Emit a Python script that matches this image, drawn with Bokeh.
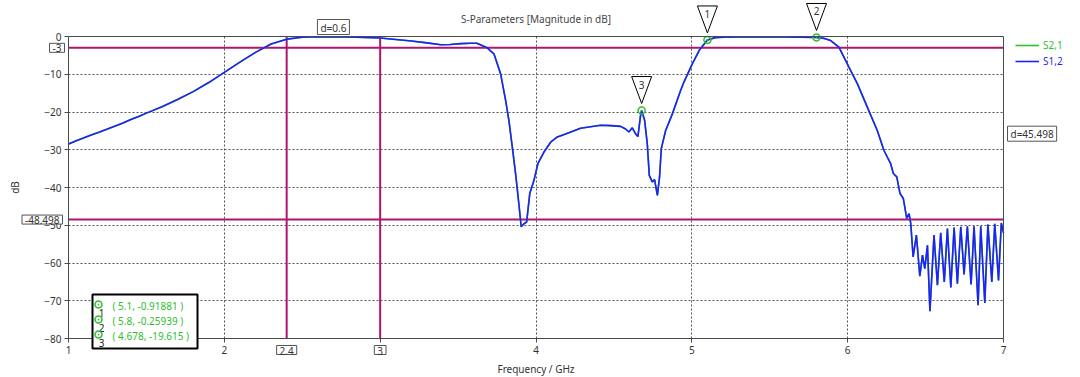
from bokeh.plotting import figure
from bokeh.models import (Label, PolyAnnotation, BoxAnnotation, Legend, LegendItem, FixedTicker,
                          LinearAxis, Grid, Range1d)
from bokeh.embed import file_html
from bokeh.resources import INLINE

# ---------------- data ----------------
freq = [1.0, 1.05, 1.1, 1.15, 1.2, 1.25, 1.3, 1.35, 1.4, 1.45, 1.5, 1.6, 1.7, 1.8, 1.9, 2.0,
        2.1, 2.2, 2.3, 2.4, 2.5, 2.6, 2.8, 3.0, 3.1, 3.2, 3.3, 3.39, 3.45, 3.52, 3.58, 3.62,
        3.687, 3.73, 3.773, 3.805, 3.826, 3.848, 3.869, 3.89, 3.905, 3.923, 3.94, 3.96, 3.987,
        4.012, 4.051, 4.094, 4.137, 4.19, 4.286, 4.35, 4.415, 4.48, 4.543, 4.575, 4.596, 4.618,
        4.639, 4.654, 4.671, 4.678, 4.697, 4.714, 4.727, 4.746, 4.761, 4.779, 4.793, 4.804,
        4.832, 4.875, 4.928, 4.95, 5.0, 5.05, 5.1, 5.15, 5.2, 5.3, 5.4, 5.5, 5.6, 5.7, 5.8,
        5.85, 5.891, 5.944, 6.008, 6.062, 6.126, 6.19, 6.233, 6.276, 6.293, 6.315, 6.336,
        6.357, 6.379, 6.394, 6.405, 6.42, 6.441, 6.463, 6.48, 6.495, 6.512, 6.528, 6.554,
        6.576, 6.597, 6.62, 6.64, 6.662, 6.683, 6.704, 6.726, 6.747, 6.768, 6.792, 6.811,
        6.837, 6.854, 6.88, 6.90, 6.925, 6.944, 6.968, 6.986, 7.0]
s12 = [-28.5, -27.6, -26.8, -26.0, -25.3, -24.5, -23.7, -22.9, -22.0, -21.2, -20.3, -18.6,
       -16.7, -14.6, -12.2, -9.5, -6.8, -4.2, -2.0, -0.7, -0.2, -0.05, -0.15, -0.4, -0.8,
       -1.2, -1.7, -2.2, -2.1, -1.9, -1.8, -1.8, -3.0, -4.6, -9.9, -16.9, -22.2, -29.3,
       -36.3, -44.3, -50.4, -49.6, -49.1, -41.6, -38.1, -33.7, -30.6, -28.0, -26.6, -25.8,
       -24.3, -23.9, -23.5, -23.6, -23.8, -24.5, -25.3, -24.2, -25.8, -26.5, -20.9, -19.6,
       -22.2, -28.4, -36.8, -38.5, -37.9, -42.1, -37.2, -29.7, -24.9, -20.5, -14.3, -12.0,
       -7.5, -3.5, -0.92, -0.3, -0.2, -0.15, -0.1, -0.1, -0.15, -0.2, -0.26, -0.5, -1.06,
       -2.8, -8.1, -12.5, -18.7, -24.9, -30.2, -33.7, -36.3, -37.2, -41.6, -42.9, -48.2,
       -46.9, -49.6, -58.4, -52.6, -63.5, -57.9, -61.5, -55.3, -72.8, -52.6, -65.9, -52.0,
       -65.0, -50.9, -66.5, -50.6, -65.5, -50.4, -63.0, -50.3, -65.7, -50.3, -71.2, -50.3,
       -70.6, -49.8, -65.0, -49.6, -64.6, -49.4, -52.0]
s21 = list(s12)

x_ticks = [1, 2, 3, 4, 5, 6, 7]
y_ticks = [0, -10, -20, -30, -40, -50, -60, -70, -80]

marker_ids = ["1", "2", "3"]
marker_f = [5.1, 5.8, 4.678]
marker_db = [-0.91881, -0.25939, -19.615]

vline_f = [2.4, 3.0]
hline_db = [-3.0, -48.498]

# ---------------- layout helpers (pixel <-> data for the plot box) ----------------
W, H = 1080, 377
X0PX, X1PX, Y0PX, Y1PX = 68, 1003, 36, 338
XMIN, XMAX, YMIN, YMAX = x_ticks[0], x_ticks[-1], y_ticks[-1], y_ticks[0]
XS = (X1PX - X0PX) / (XMAX - XMIN)
YS = (Y1PX - Y0PX) / (YMAX - YMIN)


def xd(px):
    return XMIN + (px - X0PX) / XS


def yd(py):
    return YMAX - (py - Y0PX) / YS


FONT = "Noto Sans"
BLUE = "#1f1fff"
GREEN = "#2ec02e"
MAG = "#b0156e"
TXT = "#333333"
AX = "#4a4a4a"

p = figure(width=W, height=H, x_range=Range1d(xd(0), xd(W)), y_range=Range1d(yd(H), yd(0)),
           output_backend="svg", toolbar_location=None,
           x_axis_location=None, y_axis_location=None,
           min_border=0, min_border_left=0, min_border_right=0, min_border_top=0,
           min_border_bottom=0)
p.background_fill_color = "white"
p.outline_line_color = None
p.xgrid.visible = False
p.ygrid.visible = False


def style_axis(ax):
    ax.axis_line_color = AX
    ax.major_tick_line_color = AX
    ax.major_tick_out = 4
    ax.major_tick_in = 0
    ax.minor_tick_line_color = None
    ax.major_label_text_font = FONT
    ax.major_label_text_font_size = "10px"
    ax.major_label_text_color = TXT
    ax.axis_label_text_font = FONT
    ax.axis_label_text_font_size = "10px"
    ax.axis_label_text_font_style = "normal"
    ax.axis_label_text_color = TXT
    ax.major_label_standoff = 3


xaxis = LinearAxis(fixed_location=YMIN, bounds=(XMIN, XMAX), ticker=FixedTicker(ticks=x_ticks),
                   axis_label="Frequency / GHz")
style_axis(xaxis)
xaxis.axis_label_standoff = 5
p.add_layout(xaxis, "below")

yaxis = LinearAxis(fixed_location=XMIN, bounds=(YMIN, YMAX), ticker=FixedTicker(ticks=y_ticks),
                   axis_label="dB")
style_axis(yaxis)
yaxis.axis_label_standoff = 19
p.add_layout(yaxis, "left")

# frame top / right edges
top = LinearAxis(fixed_location=YMAX, bounds=(XMIN, XMAX), ticker=FixedTicker(ticks=[]))
top.axis_line_color = AX
top.minor_tick_line_color = None
p.add_layout(top, "above")
right = LinearAxis(fixed_location=XMAX, bounds=(YMIN, YMAX), ticker=FixedTicker(ticks=[]))
right.axis_line_color = AX
right.minor_tick_line_color = None
p.add_layout(right, "right")

# dotted grid, limited to the plot box
has_cb = "cross_bounds" in Grid.properties()
for dim, ticks, cb in ((0, x_ticks[1:-1], (YMIN, YMAX)), (1, y_ticks[1:-1], (XMIN, XMAX))):
    kw = dict(dimension=dim, ticker=FixedTicker(ticks=ticks), grid_line_color="#555555",
              grid_line_dash="2 2", grid_line_width=1)
    if has_cb:
        kw["cross_bounds"] = cb
        p.add_layout(Grid(**kw))
if not has_cb:
    gx = x_ticks[1:-1]
    gy = y_ticks[1:-1]
    p.segment(x0=gx, y0=[YMIN] * len(gx), x1=gx, y1=[YMAX] * len(gx), line_color="#555555",
              line_dash="2 2", line_width=1)
    p.segment(x0=[XMIN] * len(gy), y0=gy, x1=[XMAX] * len(gy), y1=gy, line_color="#555555",
              line_dash="2 2", line_width=1)

# marker lines
p.segment(x0=vline_f, y0=[YMIN] * 2, x1=vline_f, y1=[YMAX] * 2, line_color=MAG, line_width=2)
p.segment(x0=[XMIN] * 2, y0=hline_db, x1=[XMAX] * 2, y1=hline_db, line_color=MAG, line_width=2)

r21 = p.line(freq, s21, line_color=GREEN, line_width=1.6)
r12 = p.line(freq, s12, line_color=BLUE, line_width=1.6)

p.scatter(marker_f, marker_db, marker="circle_dot", size=7, fill_color=None,
          line_color=GREEN, line_width=1.5)

# title
p.add_layout(Label(x=(XMIN + XMAX) / 2, y=YMAX, y_offset=18, text="S-Parameters [Magnitude in dB]",
                   text_align="center", text_baseline="middle", text_font=FONT,
                   text_font_size="10px", text_color="#444444"))


# boxed labels
def boxed(x, y, text, align, baseline, xo=0, yo=0):
    kw = dict(x=x, y=y, x_offset=xo, y_offset=yo, text=text, text_align=align,
              text_baseline=baseline, text_font=FONT, text_font_size="10px",
              text_color=TXT, border_line_color="#555555", background_fill_color="white")
    try:
        lab = Label(padding=dict(left=3, right=3, top=1, bottom=0), **kw)
    except Exception:
        lab = Label(padding=2, **kw)
    p.add_layout(lab)


boxed(XMIN, hline_db[0], "%g" % hline_db[0], "right", "middle", xo=-4)
boxed(XMIN, hline_db[1], "%g" % hline_db[1], "right", "middle", xo=-6)
boxed((vline_f[0] + vline_f[1]) / 2, YMAX, "d=%g" % round(vline_f[1] - vline_f[0], 3),
      "center", "bottom", yo=2)
boxed(XMAX, (hline_db[0] + hline_db[1]) / 2, "d=%g" % round(hline_db[0] - hline_db[1], 3),
      "left", "middle", xo=4)
boxed(vline_f[0], YMIN, "%g" % vline_f[0], "center", "top", yo=-7)
boxed(vline_f[1], YMIN, "%g" % vline_f[1], "center", "top", yo=-7)

# triangles above markers
HW = 10 / XS
for mid, f, d in zip(marker_ids, marker_f, marker_db):
    tip = d + 7 / YS
    tt = tip + 27 / YS
    p.add_layout(PolyAnnotation(xs=[f - HW, f + HW, f], ys=[tt, tt, tip],
                                fill_color="white", fill_alpha=1, line_color="black",
                                line_alpha=1, line_width=1))
    p.add_layout(Label(x=f, y=tt, y_offset=-8, text=mid, text_align="center",
                       text_baseline="middle", text_font=FONT, text_font_size="10px",
                       text_color=TXT))

# legend (two, for differently coloured labels)
for r, name, col, cy in ((r21, "S2,1", GREEN, 45.7), (r12, "S1,2", BLUE, 61.7)):
    lg = Legend(items=[LegendItem(label=name, renderers=[r])], location=(1015, H - cy - 6),
                label_text_color=col, label_text_font=FONT, label_text_font_size="10px",
                border_line_alpha=0, background_fill_alpha=0, padding=0, margin=0,
                glyph_width=24, label_standoff=4, glyph_height=12, label_height=12)
    p.add_layout(lg)

# marker info box
p.add_layout(BoxAnnotation(left=xd(92), right=xd(197), top=yd(294), bottom=yd(348),
                           fill_color="white", fill_alpha=1, line_color="black", line_alpha=1,
                           line_width=2))
rows_py = [305, 320, 335]
for mid, f, d, ry in zip(marker_ids, marker_f, marker_db, rows_py):
    p.add_layout(Label(x=xd(112), y=yd(ry), text="( %g, %g )" % (f, d), text_align="left",
                       text_baseline="middle", text_font=FONT, text_font_size="10px",
                       text_color=GREEN))
    p.add_layout(Label(x=xd(101), y=yd(ry + 7), text=mid, text_align="center",
                       text_baseline="middle", text_font=FONT, text_font_size="10px",
                       text_color="#222222"))
sym = p.scatter([xd(98)] * 3, [yd(r - 1) for r in rows_py], marker="circle_dot", size=7,
                fill_color=None, line_color=GREEN, line_width=1.5)
sym.level = "overlay"

open("out.html", "w").write(file_html(p, INLINE))
